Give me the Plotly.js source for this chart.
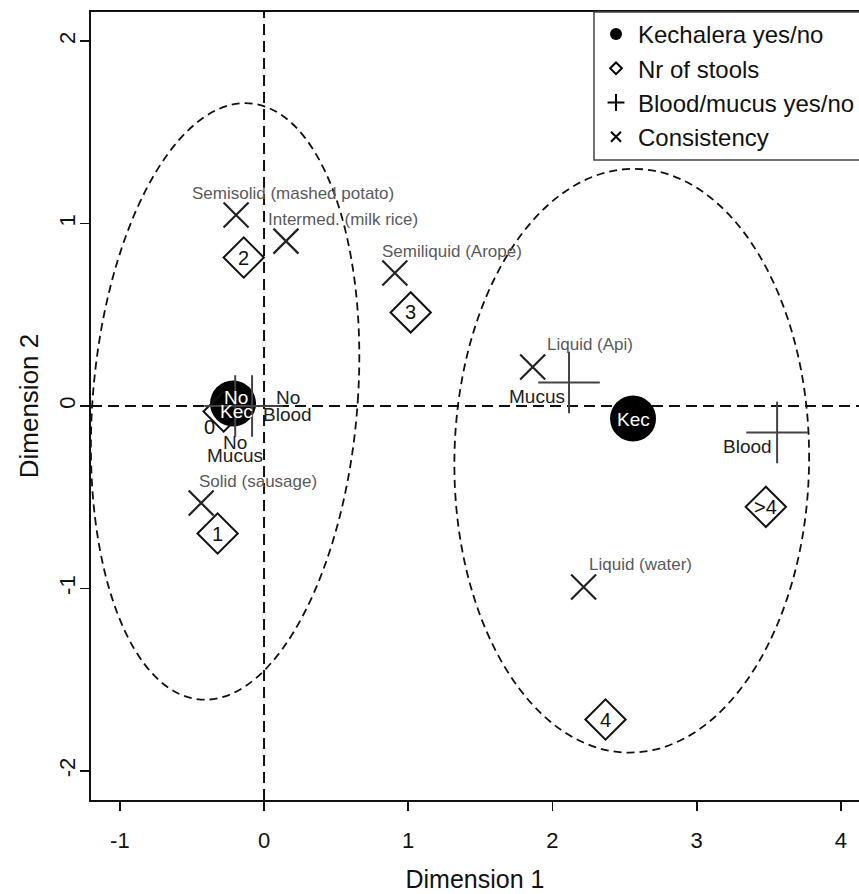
<!DOCTYPE html>
<html><head><meta charset="utf-8">
<script src="https://cdn.plot.ly/plotly-3.0.1.min.js"></script>
<style>html,body{margin:0;padding:0;background:#fff;} #chart{width:859px;height:894px;}</style>
</head><body><div id="chart"></div>
<script>
// ---- data ----
// Kechalera yes/no
const kecLabels = ["No\nKec", "Kec"];
const kecX = [-0.215, 2.559];
const kecY = [0.014, -0.069];
// Nr of stools
const stoolLabels = ["0", "1", "2", "3", "4", ">4"];
const stoolX = [-0.28, -0.322, -0.141, 1.017, 2.368, 3.480];
const stoolY = [-0.03, -0.699, 0.814, 0.513, -1.719, -0.553];
// Blood/mucus yes/no
const bmLabels = ["No\nBlood", "No\nMucus", "Mucus", "Blood"];
const bmX = [-0.083, -0.20, 2.115, 3.558];
const bmY = [0.0, 0.0, 0.129, -0.145];
// Consistency
const consLabels = ["Solid (sausage)", "Semisolid (mashed potato)", "Intermed. (milk rice)",
                    "Semiliquid (Arope)", "Liquid (Api)", "Liquid (water)"];
const consX = [-0.436, -0.194, 0.152, 0.907, 1.863, 2.216];
const consY = [-0.532, 1.047, 0.904, 0.729, 0.214, -0.992];
// axis ticks
const xTicks = [-1, 0, 1, 2, 3, 4];
const yTicks = [-2, -1, 0, 1, 2];
// group ellipses: centre and two conjugate semi-axis vectors (data units)
const ellipseLeft  = {cx: -0.27, cy: 0.025, ux: 0.14,  uy: 1.635, vx: 0.92, vy: 0};
const ellipseRight = {cx: 2.55,  cy: -0.30, ux: 0.015, uy: 1.60,  vx: 1.23, vy: 0};

// ---- styles / label offsets (pixels) ----
const FONT = '"Liberation Sans", Arial, Helvetica, sans-serif';
const kecDX = [3, 0], kecDY = [-1, -1], kecGap = [14, 0];
const stoolDX = [-14, 0, 0, 0, 0, 0], stoolDY = [-16, 0, 0, 0, 0, 0];
const bmDX = [35.5, 0, -32, -30], bmDY = [0, -43, -14, -14], bmGap = [17, 12.5, 0, 0];
const consDX = 57, consDY = 22;

function ellipsePath(e) {
  const k = 0.5523;
  const C = [e.cx, e.cy], u = [e.ux, e.uy], v = [e.vx, e.vy];
  const p = (a, b) => (C[0] + a * v[0] + b * u[0]).toFixed(4) + ',' + (C[1] + a * v[1] + b * u[1]).toFixed(4);
  return 'M' + p(1, 0) +
    ' C' + p(1, k) + ' ' + p(k, 1) + ' ' + p(0, 1) +
    ' C' + p(-k, 1) + ' ' + p(-1, k) + ' ' + p(-1, 0) +
    ' C' + p(-1, -k) + ' ' + p(-k, -1) + ' ' + p(0, -1) +
    ' C' + p(k, -1) + ' ' + p(1, -k) + ' ' + p(1, 0) + ' Z';
}

const annotations = [];
function addLabels(xs, ys, labels, dx, dy, gap, font) {
  labels.forEach((lab, i) => {
    const lines = lab.split('\n');
    const n = lines.length;
    lines.forEach((ln, j) => {
      annotations.push({
        x: xs[i], y: ys[i], xref: 'x', yref: 'y', text: ln, showarrow: false,
        xanchor: 'center', yanchor: 'middle',
        xshift: dx[i], yshift: dy[i] + ((n - 1) / 2 - j) * (gap ? gap[i] : 0),
        font: font
      });
    });
  });
}
addLabels(kecX, kecY, kecLabels, kecDX, kecDY, kecGap, {family: FONT, size: 19, color: '#ffffff'});
addLabels(stoolX, stoolY, stoolLabels, stoolDX, stoolDY, null, {family: FONT, size: 20, color: '#111'});
addLabels(bmX, bmY, bmLabels, bmDX, bmDY, bmGap, {family: FONT, size: 19, color: '#222'});
addLabels(consX, consY, consLabels, consX.map(() => consDX), consY.map(() => consDY), null,
          {family: FONT, size: 17, color: '#5a5a5a'});

const traces = [
  {type: 'scatter', mode: 'markers', x: kecX, y: kecY, showlegend: false, hoverinfo: 'skip',
   marker: {symbol: 'circle', size: 46, color: '#000'}},
  {type: 'scatter', mode: 'markers', x: stoolX, y: stoolY, showlegend: false, hoverinfo: 'skip',
   marker: {symbol: 'diamond-open', size: 31, color: '#111', line: {width: 2, color: '#111'}}},
  {type: 'scatter', mode: 'markers', x: bmX, y: bmY, showlegend: false, hoverinfo: 'skip',
   marker: {symbol: 'cross-thin', size: 44, color: '#444', line: {width: 2, color: '#444'}}},
  {type: 'scatter', mode: 'markers', x: consX, y: consY, showlegend: false, hoverinfo: 'skip',
   marker: {symbol: 'x-thin', size: 25, color: '#222', line: {width: 2.2, color: '#222'}}},
  // legend entries
  {type: 'scatter', mode: 'markers', x: [null], y: [null], name: 'Kechalera yes/no',
   marker: {symbol: 'circle', size: 12, color: '#000'}},
  {type: 'scatter', mode: 'markers', x: [null], y: [null], name: 'Nr of stools',
   marker: {symbol: 'diamond-open', size: 9, color: '#000', line: {width: 2, color: '#000'}}},
  {type: 'scatter', mode: 'markers', x: [null], y: [null], name: 'Blood/mucus yes/no',
   marker: {symbol: 'cross-thin', size: 12, color: '#000', line: {width: 2, color: '#000'}}},
  {type: 'scatter', mode: 'markers', x: [null], y: [null], name: 'Consistency',
   marker: {symbol: 'x-thin', size: 10, color: '#000', line: {width: 2, color: '#000'}}}
];

const LEG_X = 503 / 768;
const shapes = [
  {type: 'line', xref: 'x', yref: 'paper', x0: 0, x1: 0, y0: 0, y1: 1, layer: 'below',
   line: {color: '#111', width: 2, dash: '11px,6px'}},
  {type: 'line', xref: 'paper', yref: 'y', x0: 0, x1: 1, y0: 0, y1: 0, layer: 'below',
   line: {color: '#111', width: 2, dash: '11px,6px'}},
  {type: 'path', xref: 'x', yref: 'y', path: ellipsePath(ellipseLeft), layer: 'below',
   line: {color: '#111', width: 1.8, dash: '8px,5px'}},
  {type: 'path', xref: 'x', yref: 'y', path: ellipsePath(ellipseRight), layer: 'below',
   line: {color: '#111', width: 1.8, dash: '8px,5px'}},
  // legend frame (runs off the right edge of the page, as in the original)
  {type: 'rect', xref: 'paper', yref: 'paper', x0: LEG_X, x1: 1.05, y0: (800 - 160) / 788, y1: 1,
   layer: 'above', fillcolor: '#fff', line: {color: '#444', width: 1.5}}
];

const layout = {
  width: 859, height: 894,
  margin: {l: 91, r: 0, t: 12, b: 94, autoexpand: false},
  paper_bgcolor: '#fff', plot_bgcolor: '#fff',
  font: {family: FONT, color: '#111'},
  showlegend: true,
  legend: {x: LEG_X, y: 1, xanchor: 'left', yanchor: 'top', bgcolor: 'rgba(0,0,0,0)',
           borderwidth: 0, font: {family: FONT, size: 24, color: '#111'},
           itemsizing: 'trace', itemwidth: 34},
  xaxis: {range: [-1.2, 4.126], tickvals: xTicks, ticktext: xTicks.map(String),
          ticks: 'outside', ticklen: 9, tickwidth: 1.8, tickcolor: '#111',
          showline: true, linewidth: 2, linecolor: '#111', mirror: true,
          showgrid: false, zeroline: false, tickfont: {size: 22, color: '#111'},
          ticklabelstandoff: 11,
          title: {text: 'Dimension 1', font: {size: 25, color: '#111'}, standoff: 18}},
  yaxis: {range: [-2.16, 2.16], tickvals: yTicks, ticktext: yTicks.map(String), tickangle: -90,
          ticks: 'outside', ticklen: 9, tickwidth: 1.8, tickcolor: '#111',
          showline: true, linewidth: 2, linecolor: '#111', mirror: false,
          showgrid: false, zeroline: false, tickfont: {size: 22, color: '#111'},
          ticklabelstandoff: -4,
          title: {text: 'Dimension 2', font: {size: 26, color: '#111'}, standoff: 9}},
  shapes: shapes,
  annotations: annotations
};

Plotly.newPlot('chart', traces, layout, {displayModeBar: false, staticPlot: true});
</script>
</body></html>
